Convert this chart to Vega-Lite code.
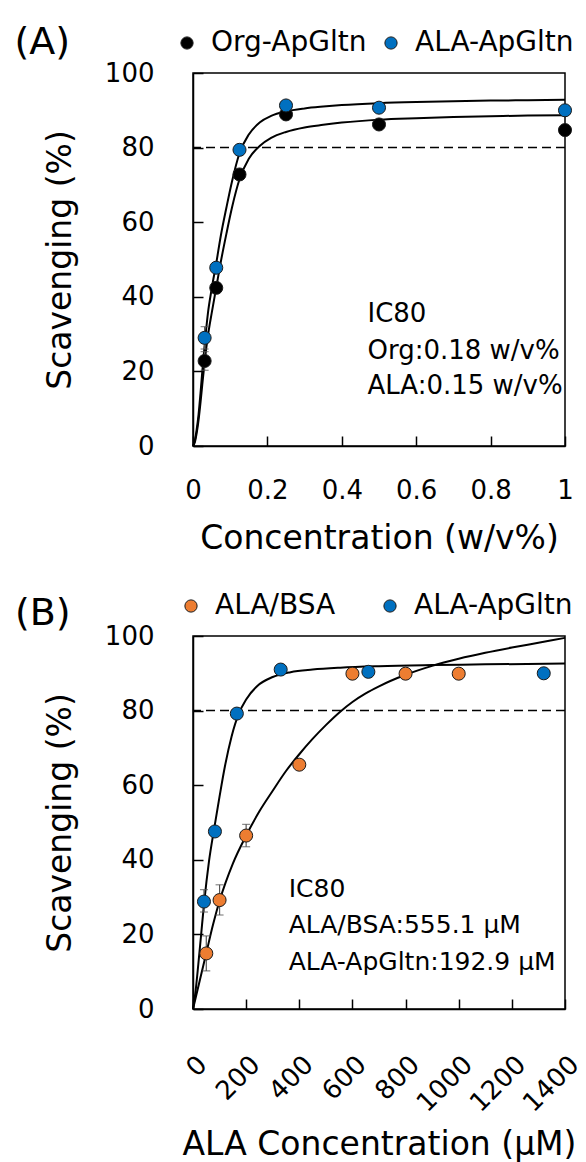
{
  "$schema": "https://vega.github.io/schema/vega-lite/v6.json",
  "background": "white",
  "padding": {"left": 13, "top": 23, "right": 5, "bottom": 2},
  "spacing": 35,
  "config": {
    "font": "DejaVu Sans",
    "view": {"stroke": "black", "strokeWidth": 1.5},
    "axis": {"grid": false, "domainColor": "black", "domainWidth": 1.5, "tickColor": "black", "tickWidth": 1.5, "tickSize": -10, "labelFontSize": 26, "labelColor": "black", "titleFontSize": 33, "titleFontWeight": "normal", "titleColor": "black", "labelOverlap": false, "labelBound": false, "labelFlush": false},
    "legend": {"orient": "none", "direction": "horizontal", "title": null, "labelFontSize": 28, "labelColor": "black", "symbolType": "circle", "symbolSize": 150, "symbolStrokeColor": "#1a1a1a", "symbolStrokeWidth": 1, "labelOffset": 10, "columnPadding": 10}
  },
  "datasets": {
    "curveA": [
      {"s": "Org", "x": 0, "y": 0}, {"s": "Org", "x": 0.005, "y": 1}, {"s": "Org", "x": 0.01, "y": 3.5}, {"s": "Org", "x": 0.015, "y": 7}, {"s": "Org", "x": 0.02, "y": 11.5}, {"s": "Org", "x": 0.025, "y": 16.5}, {"s": "Org", "x": 0.03125, "y": 22.5}, {"s": "Org", "x": 0.04, "y": 29.5}, {"s": "Org", "x": 0.05, "y": 35.5}, {"s": "Org", "x": 0.0625, "y": 42.5}, {"s": "Org", "x": 0.075, "y": 49.5}, {"s": "Org", "x": 0.09, "y": 57}, {"s": "Org", "x": 0.105, "y": 64}, {"s": "Org", "x": 0.125, "y": 71.5}, {"s": "Org", "x": 0.15, "y": 77}, {"s": "Org", "x": 0.18, "y": 80.5}, {"s": "Org", "x": 0.21, "y": 82.6}, {"s": "Org", "x": 0.25, "y": 84.2}, {"s": "Org", "x": 0.3, "y": 85.4}, {"s": "Org", "x": 0.35, "y": 86.1}, {"s": "Org", "x": 0.4, "y": 86.7}, {"s": "Org", "x": 0.5, "y": 87.5}, {"s": "Org", "x": 0.6, "y": 87.9}, {"s": "Org", "x": 0.7, "y": 88.2}, {"s": "Org", "x": 0.8, "y": 88.4}, {"s": "Org", "x": 0.9, "y": 88.6}, {"s": "Org", "x": 1, "y": 88.7},
      {"s": "ALA", "x": 0, "y": 0}, {"s": "ALA", "x": 0.005, "y": 1.5}, {"s": "ALA", "x": 0.01, "y": 4.5}, {"s": "ALA", "x": 0.015, "y": 8.5}, {"s": "ALA", "x": 0.02, "y": 14}, {"s": "ALA", "x": 0.025, "y": 20}, {"s": "ALA", "x": 0.03125, "y": 27}, {"s": "ALA", "x": 0.04, "y": 35.5}, {"s": "ALA", "x": 0.05, "y": 42}, {"s": "ALA", "x": 0.0625, "y": 49}, {"s": "ALA", "x": 0.075, "y": 56.5}, {"s": "ALA", "x": 0.09, "y": 64}, {"s": "ALA", "x": 0.105, "y": 71}, {"s": "ALA", "x": 0.125, "y": 78.5}, {"s": "ALA", "x": 0.15, "y": 83.5}, {"s": "ALA", "x": 0.18, "y": 86.8}, {"s": "ALA", "x": 0.21, "y": 88.5}, {"s": "ALA", "x": 0.25, "y": 89.7}, {"s": "ALA", "x": 0.3, "y": 90.5}, {"s": "ALA", "x": 0.35, "y": 91}, {"s": "ALA", "x": 0.4, "y": 91.4}, {"s": "ALA", "x": 0.5, "y": 91.9}, {"s": "ALA", "x": 0.6, "y": 92.2}, {"s": "ALA", "x": 0.7, "y": 92.4}, {"s": "ALA", "x": 0.8, "y": 92.6}, {"s": "ALA", "x": 0.9, "y": 92.7}, {"s": "ALA", "x": 1, "y": 92.8}
    ],
    "ptsA": [
      {"s": "Org-ApGltn", "x": 0.03125, "y": 22.8}, {"s": "Org-ApGltn", "x": 0.0625, "y": 42.4}, {"s": "Org-ApGltn", "x": 0.125, "y": 72.8}, {"s": "Org-ApGltn", "x": 0.25, "y": 88.9}, {"s": "Org-ApGltn", "x": 0.5, "y": 86.2}, {"s": "Org-ApGltn", "x": 1, "y": 84.7},
      {"s": "ALA-ApGltn", "x": 0.03125, "y": 29.0}, {"s": "ALA-ApGltn", "x": 0.0625, "y": 47.8}, {"s": "ALA-ApGltn", "x": 0.125, "y": 79.4}, {"s": "ALA-ApGltn", "x": 0.25, "y": 91.3}, {"s": "ALA-ApGltn", "x": 0.5, "y": 90.7}, {"s": "ALA-ApGltn", "x": 1, "y": 90.0}
    ],
    "errA": [
      {"x": 0.03125, "lo": 20.3, "hi": 25.3}, {"x": 0.03125, "lo": 26, "hi": 32}
    ],
    "noteA": [
      {"x": 0.469, "y": 35.4, "t": "IC80"}, {"x": 0.469, "y": 25.5, "t": "Org:0.18 w/v%"}, {"x": 0.469, "y": 16.1, "t": "ALA:0.15 w/v%"}
    ],
    "labelA": [{"x": -0.48, "y": 108, "t": "(A)"}],
    "curveB": [
      {"s": "BSA", "x": 0, "y": 0}, {"s": "BSA", "x": 25, "y": 7.5}, {"s": "BSA", "x": 50, "y": 15}, {"s": "BSA", "x": 75, "y": 22.5}, {"s": "BSA", "x": 100, "y": 29}, {"s": "BSA", "x": 150, "y": 39}, {"s": "BSA", "x": 200, "y": 46.5}, {"s": "BSA", "x": 250, "y": 53}, {"s": "BSA", "x": 300, "y": 58.5}, {"s": "BSA", "x": 350, "y": 63.8}, {"s": "BSA", "x": 400, "y": 68.3}, {"s": "BSA", "x": 450, "y": 72.4}, {"s": "BSA", "x": 500, "y": 76.1}, {"s": "BSA", "x": 554, "y": 79.7}, {"s": "BSA", "x": 600, "y": 82.3}, {"s": "BSA", "x": 650, "y": 84.6}, {"s": "BSA", "x": 700, "y": 86.5}, {"s": "BSA", "x": 800, "y": 89.6}, {"s": "BSA", "x": 900, "y": 92}, {"s": "BSA", "x": 1000, "y": 93.9}, {"s": "BSA", "x": 1100, "y": 95.5}, {"s": "BSA", "x": 1200, "y": 96.9}, {"s": "BSA", "x": 1300, "y": 98.2}, {"s": "BSA", "x": 1400, "y": 99.5},
      {"s": "Glt", "x": 0, "y": 0}, {"s": "Glt", "x": 10, "y": 5}, {"s": "Glt", "x": 20, "y": 12}, {"s": "Glt", "x": 30, "y": 19.5}, {"s": "Glt", "x": 42, "y": 28.5}, {"s": "Glt", "x": 60, "y": 39.5}, {"s": "Glt", "x": 80, "y": 48.5}, {"s": "Glt", "x": 100, "y": 57}, {"s": "Glt", "x": 120, "y": 65}, {"s": "Glt", "x": 145, "y": 73}, {"s": "Glt", "x": 173, "y": 79.3}, {"s": "Glt", "x": 200, "y": 83}, {"s": "Glt", "x": 242, "y": 86.6}, {"s": "Glt", "x": 300, "y": 89}, {"s": "Glt", "x": 367, "y": 90.3}, {"s": "Glt", "x": 450, "y": 91}, {"s": "Glt", "x": 554, "y": 91.5}, {"s": "Glt", "x": 700, "y": 91.9}, {"s": "Glt", "x": 900, "y": 92.2}, {"s": "Glt", "x": 1100, "y": 92.4}, {"s": "Glt", "x": 1400, "y": 92.6}
    ],
    "ptsB": [
      {"s": "ALA/BSA", "x": 50, "y": 14.9}, {"s": "ALA/BSA", "x": 100, "y": 29.2}, {"s": "ALA/BSA", "x": 200, "y": 46.5}, {"s": "ALA/BSA", "x": 400, "y": 65.5}, {"s": "ALA/BSA", "x": 600, "y": 89.9}, {"s": "ALA/BSA", "x": 800, "y": 89.9}, {"s": "ALA/BSA", "x": 1000, "y": 89.9},
      {"s": "ALA-ApGltn", "x": 41.25, "y": 28.8}, {"s": "ALA-ApGltn", "x": 82.5, "y": 47.6}, {"s": "ALA-ApGltn", "x": 165, "y": 79.2}, {"s": "ALA-ApGltn", "x": 330, "y": 91.0}, {"s": "ALA-ApGltn", "x": 660, "y": 90.4}, {"s": "ALA-ApGltn", "x": 1320, "y": 90.0}
    ],
    "errB": [
      {"x": 50, "lo": 10.2, "hi": 19.6}, {"x": 100, "lo": 25.2, "hi": 33.3}, {"x": 200, "lo": 43.5, "hi": 49.5}, {"x": 41.25, "lo": 26, "hi": 32}
    ],
    "noteB": [
      {"x": 360, "y": 32.3, "t": "IC80"}, {"x": 360, "y": 22.6, "t": "ALA/BSA:555.1 µM"}, {"x": 360, "y": 12.6, "t": "ALA-ApGltn:192.9 µM"}
    ],
    "labelB": [{"x": -670, "y": 106, "t": "(B)"}]
  },
  "vconcat": [
    {
      "width": 372,
      "height": 373,
      "layer": [
        {
          "data": {"name": "curveA"},
          "mark": {"type": "line", "color": "black", "strokeWidth": 2, "interpolate": "monotone"},
          "encoding": {
            "x": {"field": "x", "type": "quantitative", "title": "Concentration (w/v%)", "scale": {"domain": [0, 1], "nice": false}, "axis": {"values": [0, 0.2, 0.4, 0.6, 0.8, 1], "format": "~g", "labelPadding": 41, "titlePadding": 19}},
            "y": {"field": "y", "type": "quantitative", "title": "Scavenging (%)", "scale": {"domain": [0, 100], "nice": false}, "axis": {"values": [0, 20, 40, 60, 80, 100], "labelPadding": 49, "titlePadding": 27}},
            "detail": {"field": "s"}
          }
        },
        {
          "data": {"values": [{"y": 80}]},
          "mark": {"type": "rule", "color": "black", "strokeWidth": 1.5, "strokeDash": [9, 5]},
          "encoding": {"y": {"field": "y", "type": "quantitative", "title": "Scavenging (%)"}}
        },
        {
          "data": {"name": "errA"},
          "mark": {"type": "errorbar", "color": "#555555", "ticks": {"size": 8}, "thickness": 1.2},
          "encoding": {
            "x": {"field": "x", "type": "quantitative", "title": "Concentration (w/v%)"},
            "y": {"field": "lo", "type": "quantitative", "title": "Scavenging (%)"},
            "y2": {"field": "hi"}
          }
        },
        {
          "data": {"name": "ptsA"},
          "mark": {"type": "circle", "size": 170, "opacity": 1, "stroke": "#1a1a1a", "strokeWidth": 1},
          "encoding": {
            "x": {"field": "x", "type": "quantitative", "title": "Concentration (w/v%)"},
            "y": {"field": "y", "type": "quantitative", "title": "Scavenging (%)"},
            "color": {"field": "s", "type": "nominal", "sort": null, "scale": {"domain": ["Org-ApGltn", "ALA-ApGltn"], "range": ["#000000", "#0070C0"]}, "legend": {"legendX": -20, "legendY": -44}}
          }
        },
        {
          "data": {"name": "noteA"},
          "mark": {"type": "text", "align": "left", "baseline": "middle", "fontSize": 26, "color": "black"},
          "encoding": {
            "x": {"field": "x", "type": "quantitative", "title": "Concentration (w/v%)"},
            "y": {"field": "y", "type": "quantitative", "title": "Scavenging (%)"},
            "text": {"field": "t"}
          }
        },
        {
          "data": {"name": "labelA"},
          "mark": {"type": "text", "align": "left", "baseline": "middle", "fontSize": 38, "color": "black"},
          "encoding": {
            "x": {"field": "x", "type": "quantitative", "title": "Concentration (w/v%)"},
            "y": {"field": "y", "type": "quantitative", "title": "Scavenging (%)"},
            "text": {"field": "t"}
          }
        }
      ]
    },
    {
      "width": 372,
      "height": 373,
      "layer": [
        {
          "data": {"name": "curveB"},
          "mark": {"type": "line", "color": "black", "strokeWidth": 2, "interpolate": "monotone"},
          "encoding": {
            "x": {"field": "x", "type": "quantitative", "title": "ALA Concentration (µM)", "scale": {"domain": [0, 1400], "nice": false}, "axis": {"values": [0, 200, 400, 600, 800, 1000, 1200, 1400], "format": "d", "labelAngle": -45, "labelAlign": "right", "labelBaseline": "top", "labelPadding": 52, "titlePadding": 12}},
            "y": {"field": "y", "type": "quantitative", "title": "Scavenging (%)", "scale": {"domain": [0, 100], "nice": false}, "axis": {"values": [0, 20, 40, 60, 80, 100], "labelPadding": 49, "titlePadding": 27}},
            "detail": {"field": "s"}
          }
        },
        {
          "data": {"values": [{"y": 80}]},
          "mark": {"type": "rule", "color": "black", "strokeWidth": 1.5, "strokeDash": [9, 5]},
          "encoding": {"y": {"field": "y", "type": "quantitative", "title": "Scavenging (%)"}}
        },
        {
          "data": {"name": "errB"},
          "mark": {"type": "errorbar", "color": "#555555", "ticks": {"size": 8}, "thickness": 1.2},
          "encoding": {
            "x": {"field": "x", "type": "quantitative", "title": "ALA Concentration (µM)"},
            "y": {"field": "lo", "type": "quantitative", "title": "Scavenging (%)"},
            "y2": {"field": "hi"}
          }
        },
        {
          "data": {"name": "ptsB"},
          "mark": {"type": "circle", "size": 170, "opacity": 1, "stroke": "#1a1a1a", "strokeWidth": 1},
          "encoding": {
            "x": {"field": "x", "type": "quantitative", "title": "ALA Concentration (µM)"},
            "y": {"field": "y", "type": "quantitative", "title": "Scavenging (%)"},
            "color": {"field": "s", "type": "nominal", "sort": null, "scale": {"domain": ["ALA/BSA", "ALA-ApGltn"], "range": ["#ED7D31", "#0070C0"]}, "legend": {"legendX": -16, "legendY": -44, "columnPadding": 40}}
          }
        },
        {
          "data": {"name": "noteB"},
          "mark": {"type": "text", "align": "left", "baseline": "middle", "fontSize": 25, "color": "black"},
          "encoding": {
            "x": {"field": "x", "type": "quantitative", "title": "ALA Concentration (µM)"},
            "y": {"field": "y", "type": "quantitative", "title": "Scavenging (%)"},
            "text": {"field": "t"}
          }
        },
        {
          "data": {"name": "labelB"},
          "mark": {"type": "text", "align": "left", "baseline": "middle", "fontSize": 38, "color": "black"},
          "encoding": {
            "x": {"field": "x", "type": "quantitative", "title": "ALA Concentration (µM)"},
            "y": {"field": "y", "type": "quantitative", "title": "Scavenging (%)"},
            "text": {"field": "t"}
          }
        }
      ]
    }
  ],
  "resolve": {"scale": {"color": "independent"}}
}
